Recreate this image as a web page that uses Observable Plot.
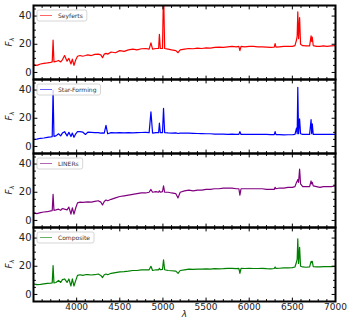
<!DOCTYPE html>
<html><head><meta charset="utf-8">
<script src="https://cdn.jsdelivr.net/npm/d3@7"></script>
<script src="https://cdn.jsdelivr.net/npm/@observablehq/plot@0.6"></script>
<style>
body{margin:0;background:#fff;font-family:"DejaVu Sans",sans-serif;}
#chart svg{display:block;}
</style></head><body><div id="chart"></div>
<script>
const wavelength = [3500,3540,3580,3620,3660,3700,3717,3727,3737,3760,3790,3815,3835,3860,3889,3910,3934,3950,3969,3990,
4010,4040,4070,4102,4130,4170,4210,4250,4280,4300,4320,4340,4360,4400,4450,4500,4550,4600,4650,4700,
4750,4800,4840,4861,4880,4920,4950,4959,4970,4995,5007,5020,5060,5100,5150,5175,5200,5250,5300,5350,
5400,5450,5500,5550,5600,5650,5700,5750,5800,5850,5880,5892,5905,5950,6000,6050,6100,6150,6200,6250,
6290,6300,6310,6350,6400,6450,6500,6530,6548,6556,6563,6572,6584,6595,6620,6660,6700,6717,6724,6731,
6742,6780,6820,6860,6900,6950,7000];

const seyferts = [5.5,5.0,6.0,6.5,6.8,7.2,7.5,23,7.5,7.8,8.5,7.5,9,12,8,10,6,9.5,5,9,
11.5,12,11.5,12,12.5,12,12.8,13,12.5,10.5,13,13.5,13,14.5,14,15.5,15,16,16.5,16,
16.8,17,16.5,21,16.5,17,17,27,17,17,60,17,16.5,16,15.5,14,16,16.5,17,16.8,
17.2,17,17.5,17.2,17.8,18,17.8,18.2,18.5,18.2,18.5,15.5,18.5,18.2,18.5,18.5,18.2,18.2,18,17.8,
18,20.5,18,18.2,18.5,18.5,18.5,19,23,26,43,24,39,20,19,18.8,18.8,26,22,25,
19,18.5,18.5,18.8,18.5,18.8,19];

const starForming = [5,5.2,5.8,6,6.5,6.8,7,40,7.2,7.5,9,7.5,9.5,10.5,7.5,10,7,9.5,6.5,9,
10.5,10.5,10.2,8.5,10.2,10,9.8,9.8,9.5,9.6,9.5,15,9,9.8,9.6,9.8,9.7,9.8,9.7,9.8,
9.9,10,9.8,24.5,9.5,9.8,9.8,16.5,9.8,9.8,27,9.8,9.6,9.5,9.6,9.2,9.5,9.5,9.4,9.3,
9.2,9.1,9,9,8.8,8.8,8.7,8.6,8.7,8.6,8.6,10.5,8.5,8.6,8.6,8.5,8.5,8.6,8.5,8.4,
8.4,10.5,8.4,8.4,8.2,8.3,8.3,8.6,13,9,42,9,19.5,9,8.6,8.5,8.6,19,9,16,
8.6,8.5,8.6,8.5,8.6,8.5,8.6];

const liners = [5.5,4.8,5.5,6,6.2,6.8,7,18.5,7.2,7.5,8,7.2,8.5,8,7.5,9.5,4.5,9,4.5,9,
12.5,13,12.8,13,13.2,13,13.5,14,13,11,13.5,14.5,14,15,16,17,17.5,18,18.5,19,
19.5,19.5,20,22,20,20.5,20,21,20,20.5,24.5,20,20,19.5,19,16,20,21,21.5,21,
21.5,21.5,22,22,22.5,22.5,23,23,23,22.5,22.5,18,22.5,22.5,22.5,22.5,22.5,22.5,22,22,
22,23.5,22.5,23,23,23.5,23.5,24,27,28,29,27,36.5,26,24,24,24,28,26,27,
24.5,24,23.5,24,24,24,24.5];

const composite = [7.5,7,7.2,7.5,7.8,8,8.2,20.5,8.2,8.5,10,8.5,10.5,11,8.5,11,6,11,6,10,
13.5,14,13.5,14,14,13.8,14,14.5,13.5,12,14,14.5,14,15,15.5,16,16.2,16.5,17,17,
17.5,17.5,17.5,20,17,17.5,17.5,18.5,17.5,17.8,24.5,17.5,17,16.8,16.5,15,17,17.5,18,17.8,
18,18,18.2,18,18.3,18.2,18.3,18.5,18.5,18.3,18.5,15,18.5,18.4,18.5,18.4,18.4,18.5,18.3,18.2,
18.4,19.5,18.5,18.6,18.8,18.8,19,19.5,23,25,39.5,22,33.5,20,19.5,19.3,19.5,23.5,22.5,23.5,
19.8,19.5,19.5,19.8,19.8,19.8,20];

const seriesNames = ["Seyferts","Star-Forming","LINERs","Composite"];
const seriesColors = ["#ff0000","#0000ff","#800080","#008000"];
const seriesValues = [seyferts, starForming, liners, composite];

const xTicks = [4000,4500,5000,5500,6000,6500,7000];
const xMinorTicks = d3.range(3600, 7000, 100).filter(v => v % 500 !== 0);
const yTicks = [0,20,40];
const yMinorTicks = [-5,5,10,15,25,30,35,45];

const tickShape = {draw(context, l) { context.moveTo(0, 0); context.lineTo(0, -l); }};

function inTicks(values, channel, len) {
  const opts = {length: len, anchor: "start", shape: tickShape, stroke: "black", strokeWidth: 1};
  if (channel === "x") {
    return [
      Plot.vector(values, {...opts, x: d => d, frameAnchor: "bottom", rotate: 0}),
      Plot.vector(values, {...opts, x: d => d, frameAnchor: "top", rotate: 180})
    ];
  }
  return [
    Plot.vector(values, {...opts, y: d => d, frameAnchor: "left", rotate: 90}),
    Plot.vector(values, {...opts, y: d => d, frameAnchor: "right", rotate: -90})
  ];
}

const container = document.getElementById("chart");
const frameH = 74;

seriesNames.forEach((name, k) => {
  const isFirst = k === 0, isLast = k === seriesNames.length - 1;
  const data = wavelength.map((w, i) => ({w, f: seriesValues[k][i]}));
  const mt = isFirst ? 5 : 0;
  const mb = isLast ? 19 : 0;
  const svg = Plot.plot({
    width: 348, height: frameH + mt + mb,
    marginLeft: 33, marginRight: 13, marginTop: mt, marginBottom: mb,
    style: {fontFamily: "DejaVu Sans, sans-serif", fontSize: "9px", background: "white", color: "#222", overflow: "visible"},
    x: {domain: [3500, 7000], axis: null},
    y: {domain: [-5, 47.5], axis: null},
    marks: [
      Plot.line(data, {x: "w", y: "f", stroke: seriesColors[k], strokeWidth: 1.2, clip: true}),
      ...inTicks(xTicks, "x", 3.5),
      ...inTicks(xMinorTicks, "x", 2),
      ...inTicks(yTicks, "y", 3.5),
      ...inTicks(yMinorTicks, "y", 2),
      Plot.axisY(yTicks, {tickSize: 0, tickPadding: 2, label: null, fontSize: 10, tickFormat: d => String(d)}),
      isLast ? Plot.axisX(xTicks, {tickSize: 0, tickPadding: 2, label: null, fontSize: 9, tickFormat: d => String(d)}) : null,
      isLast ? Plot.text(["λ"], {frameAnchor: "bottom", text: d => d, dy: 15, fontStyle: "italic", fontSize: 9, fill: "#222"}) : null,
      Plot.frame({stroke: "black", strokeWidth: 2})
    ]
  });
  container.appendChild(svg);
  const s = d3.select(svg);
  // y label F_λ
  const cy = mt + frameH / 2;
  const yl = s.append("text")
    .attr("transform", `translate(12,${cy}) rotate(-90)`)
    .attr("text-anchor", "middle")
    .attr("font-family", "DejaVu Sans, sans-serif")
    .attr("fill", "#222");
  yl.append("tspan").attr("font-size", 9).attr("font-style", "italic").text("F");
  yl.append("tspan").attr("font-size", 6).attr("font-style", "italic").attr("dy", 2).text("λ");
  // legend
  const g = s.append("g").attr("transform", `translate(37,${mt + 5})`);
  const rect = g.append("rect").attr("height", 11).attr("rx", 2)
    .attr("fill", "white").attr("fill-opacity", 0.8).attr("stroke", "#cccccc").attr("stroke-width", 0.8);
  g.append("line").attr("x1", 3).attr("x2", 15).attr("y1", 5.5).attr("y2", 5.5)
    .attr("stroke", seriesColors[k]).attr("stroke-width", 1).attr("stroke-opacity", 0.6);
  const t = g.append("text").attr("x", 21).attr("y", 5.5).attr("dy", "0.35em")
    .attr("text-anchor", "start")
    .attr("font-size", 6).attr("font-family", "DejaVu Sans, sans-serif").attr("fill", "#333").text(name);
  const tw = t.node().getComputedTextLength();
  rect.attr("width", 21 + tw + 4);
});
</script></body></html>
